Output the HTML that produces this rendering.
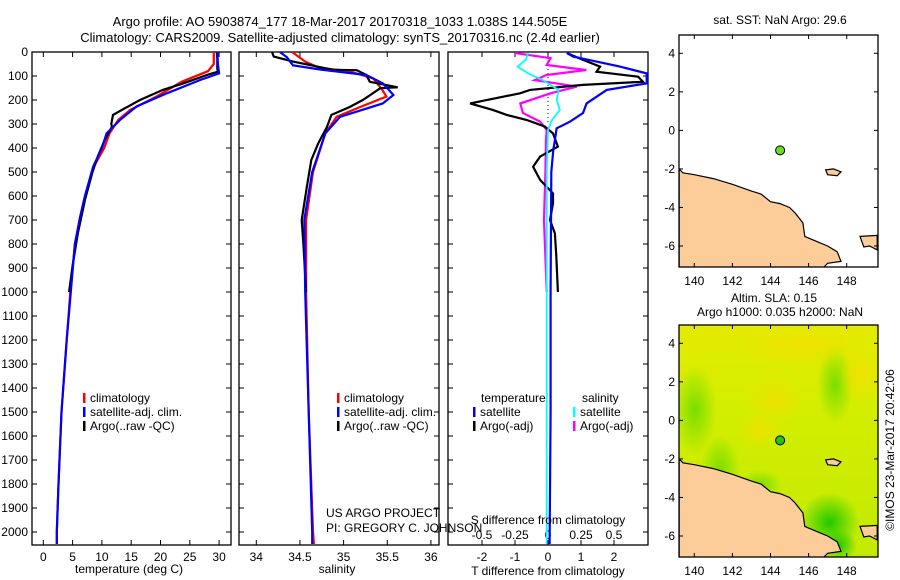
<!DOCTYPE html>
<html><head><meta charset="utf-8"><style>
html,body{margin:0;padding:0;background:#fff}
svg{display:block;font-family:"Liberation Sans",sans-serif}
text{font-size:12px;fill:#000}
</style></head><body>
<svg id="fig" width="900" height="580" viewBox="0 0 900 580" xmlns="http://www.w3.org/2000/svg">
<defs>
<radialGradient id="g1"><stop offset="0" stop-color="#18c800" stop-opacity="0.95"/><stop offset="1" stop-color="#18c800" stop-opacity="0"/></radialGradient>
<radialGradient id="g2"><stop offset="0" stop-color="#70dc00" stop-opacity="0.9"/><stop offset="1" stop-color="#70dc00" stop-opacity="0"/></radialGradient>
<radialGradient id="g3"><stop offset="0" stop-color="#f0e000" stop-opacity="0.9"/><stop offset="1" stop-color="#f0e000" stop-opacity="0"/></radialGradient>
<linearGradient id="sla" x1="0" y1="0" x2="0" y2="1"><stop offset="0" stop-color="#e4ea00"/><stop offset="0.35" stop-color="#d4ee00"/><stop offset="1" stop-color="#c2ea00"/></linearGradient>
<clipPath id="clipT"><rect x="32" y="52" width="199" height="493"/></clipPath>
<clipPath id="clipS"><rect x="239" y="52" width="200" height="493"/></clipPath>
<clipPath id="clipD"><rect x="448" y="52" width="200" height="493"/></clipPath>
<clipPath id="clipM1"><rect x="679" y="35" width="199" height="232"/></clipPath>
<clipPath id="clipM2"><rect x="679" y="325" width="199" height="232"/></clipPath>
</defs>
<text x="340" y="26" text-anchor="middle" style="font-size:13px">Argo profile: AO 5903874_177 18-Mar-2017 20170318_1033 1.038S 144.505E</text>
<text x="340" y="42" text-anchor="middle" style="font-size:13px">Climatology: CARS2009. Satellite-adjusted climatology: synTS_20170316.nc (2.4d earlier)</text>
<g id="layer"></g>
<text x="75" y="573">temperature (deg C)</text>
<text x="337" y="573" text-anchor="middle">salinity</text>
<text x="548" y="575" text-anchor="middle">T difference from climatology</text>
<text x="548" y="524" text-anchor="middle">S difference from climatology</text>
<text x="326" y="517">US ARGO PROJECT</text>
<text x="326" y="532">PI: GREGORY C. JOHNSON</text>
<text x="780" y="24" text-anchor="middle">sat. SST: NaN Argo: 29.6</text>
<text x="774" y="302" text-anchor="middle">Altim. SLA: 0.15</text>
<text x="780" y="316" text-anchor="middle">Argo h1000: 0.035 h2000: NaN</text>
<text transform="translate(894,450) rotate(-90)" text-anchor="middle">©IMOS 23-Mar-2017 20:42:06</text>
</svg>
<script>
// ---- data ----
const depthTicks=[0,100,200,300,400,500,600,700,800,900,1000,1100,1200,1300,1400,1500,1600,1700,1800,1900,2000];
const tempTicks=[0,5,10,15,20,25,30];
const salTicks=[34,34.5,35,35.5,36];
const tdiffTicks=[-2,-1,0,1,2];
const sdiffTicks=[-0.5,-0.25,0,0.25,0.5];
const tArgoDepth=[0,30,70,82,96,130,158,200,240,262,300,312,366,435,500,617,754,890,1000];
const tArgoVal=[29.6,29.7,29.7,29.8,27.9,24.0,20.4,16.5,13.5,11.9,11.6,11.7,10.5,9.3,8.4,7.1,5.9,5.0,4.4];
const tClimDepth=[0,50,80,124,186,242,283,339,400,478,600,686,800,1000,1200,1500,1800,2000,2050];
const tClimVal=[29.1,29.1,28.1,23.6,19.3,14.8,12.8,11.3,10.4,8.6,7.2,6.3,5.4,4.6,4.0,3.1,2.6,2.3,2.3];
const tSatDepth=[0,50,89,117,172,227,283,339,400,478,600,686,800,1000,1200,1500,1800,2000,2050];
const tSatVal=[29.7,29.8,30.0,26.7,21.1,15.9,13.1,10.8,10.0,8.5,7.1,6.3,5.4,4.7,4.0,3.1,2.6,2.3,2.3];
const sArgoDepth=[0,19,40,74,76,96,124,147,151,200,229,262,312,380,450,561,700,800,1000];
const sArgoVal=[34.18,34.2,34.42,34.88,35.15,35.26,35.30,35.62,35.42,35.22,35.07,34.86,34.81,34.71,34.63,34.58,34.52,34.54,34.57];
const sClimDepth=[0,40,67,78,110,156,186,229,270,339,500,700,1000,1500,2000,2050];
const sClimVal=[34.41,34.56,34.73,35.04,35.34,35.44,35.49,35.19,34.92,34.79,34.65,34.57,34.57,34.60,34.65,34.66];
const sSatDepth=[0,22,56,73,96,131,179,214,270,339,500,700,1000,1500,2000,2050];
const sSatVal=[34.27,34.35,34.42,34.73,35.26,35.45,35.57,35.45,34.96,34.79,34.64,34.55,34.56,34.60,34.64,34.64];
const dTSatDepth=[4,19,40,61,89,131,158,214,254,290,318,367,408,500,1000,1500,2050];
const dTSatVal=[0.57,0.76,1.47,2.18,2.99,2.99,1.78,1.17,1.06,0.67,0.26,0.21,0.16,0.1,0.08,0.08,0.05];
const dTArgoDepth=[4,33,61,82,103,124,137,158,172,214,242,262,283,311,339,394,436,478,533,589,631,700,756,850,1000];
const dTArgoVal=[0.57,1.06,1.58,1.47,2.73,2.88,1.06,-0.55,-0.85,-2.36,-1.66,-1.25,-0.65,-0.09,0.15,0.30,-0.24,-0.45,-0.24,0.15,0.15,0.06,0.21,0.25,0.3];
const dSArgoDepth=[4,26,54,75,96,117,144,172,214,254,290,325,367,500,700,1000];
const dSArgoVal=[-0.25,0.02,-0.01,0.29,-0.01,-0.10,0.22,0.02,-0.21,-0.19,-0.06,-0.01,-0.015,-0.02,-0.03,-0.01];
const dSSatDepth=[4,33,61,89,117,158,200,242,283,325,500,1000,1500,2050];
const dSSatVal=[-0.15,-0.17,-0.23,-0.15,-0.04,0.08,0.066,0.09,0.03,0.0,-0.01,-0.01,-0.01,-0.01];
const latTicks=[4,2,0,-2,-4,-6];
const lonTicks=[140,142,144,146,148];
const coastLon=[139.2,139.4,140,141,142,143,143.5,144,144.5,145,145.3,145.7,145.8,146.5,147,147.5,147.7,147,146.8,139.2];
const coastLat=[-2.0,-2.2,-2.3,-2.5,-2.8,-3.15,-3.3,-3.7,-3.8,-4.0,-4.3,-4.8,-5.5,-5.8,-6.0,-6.3,-6.8,-6.9,-7.1,-7.1];
const nbLon=[148.7,149.6,149.6,149.2,148.9];
const nbLat=[-5.5,-5.45,-6.2,-6.0,-6.05];
const manusLon=[146.9,147.3,147.7,147.5,147.0];
const manusLat=[-2.05,-2.0,-2.15,-2.35,-2.3];
const argoLon=144.505, argoLat=-1.038;
// ---- helpers ----
const NS='http://www.w3.org/2000/svg';
const L=document.getElementById('layer');
function mk(tag,attrs,parent){const e=document.createElementNS(NS,tag);for(const k in attrs)e.setAttribute(k,attrs[k]);(parent||L).appendChild(e);return e;}
const yD=d=>52+d*0.24;
const xT=t=>43.3+t*5.86;
const xS=s=>256.3+(s-34)*87.3;
const xDT=t=>548+t*33;
const xDS=s=>548+s*132;
const mx=lon=>694.3+(lon-140)*19.05;
const my1=lat=>53.3+(4-lat)*19.27;
const my2=lat=>343.3+(4-lat)*19.27;
function pts(xs,ys,fx,fy){return xs.map((v,i)=>fx(v).toFixed(1)+','+fy(ys[i]).toFixed(1)).join(' ');}
function panel(x0,x1,name){
  const r=mk('rect',{x:x0,y:52,width:x1-x0,height:493,fill:'none',stroke:'#000','stroke-width':1.3});
  
  
  depthTicks.forEach(d=>{mk('line',{x1:x0,x2:x0+5,y1:yD(d),y2:yD(d),stroke:'#000'});mk('line',{x1:x1-5,x2:x1,y1:yD(d),y2:yD(d),stroke:'#000'});});
}
function xticks(fx,ticks,name,labels,ly){
  ticks.forEach(t=>{mk('line',{x1:fx(t),x2:fx(t),y1:52,y2:57,stroke:'#000'});mk('line',{x1:fx(t),x2:fx(t),y1:540,y2:545,stroke:'#000'});
    if(labels){const tx=mk('text',{x:fx(t),y:ly,'text-anchor':'middle'});tx.textContent=String(t);
      
      }});
}
function line(depths,vals,fx,col,clip,name,w){
  const p=mk('polyline',{points:pts(vals,depths,fx,yD),fill:'none',stroke:col,'stroke-width':w||2.2,'clip-path':'url(#'+clip+')'});
  
  
}
// depth labels
depthTicks.forEach(d=>{const t=mk('text',{x:28,y:yD(d)+4,'text-anchor':'end'});t.textContent=String(d);
  
  });
panel(32,231,'temperature-panel');panel(239,439,'salinity-panel');panel(448,648,'difference-panel');
xticks(xT,tempTicks,'temp-tick-label',true,561);
xticks(xS,salTicks,'salinity-tick-label',true,561);
xticks(xDT,tdiffTicks,'tdiff-tick-label',true,561);
sdiffTicks.forEach(s=>{const t=mk('text',{x:xDS(s),y:539,'text-anchor':'middle'});t.textContent=String(s);
  
  });
// temperature
line(tClimDepth,tClimVal,xT,'#ff0000','clipT','temp-climatology-line');
line(tArgoDepth,tArgoVal,xT,'#000000','clipT','temp-argo-line');
line(tSatDepth,tSatVal,xT,'#0000ff','clipT','temp-satellite-line');
// salinity
line(sClimDepth,sClimVal,xS,'#ff0000','clipS','sal-climatology-line');
line(sArgoDepth,sArgoVal,xS,'#000000','clipS','sal-argo-line');
line(sSatDepth,sSatVal,xS,'#0000ff','clipS','sal-satellite-line');
// differences
mk('line',{x1:548,x2:548,y1:53,y2:125,stroke:'#000','stroke-dasharray':'1,3'});
line(dSArgoDepth,dSArgoVal,xDS,'#ff00ff','clipD','sdiff-argo-line');
line(dTArgoDepth,dTArgoVal,xDT,'#000000','clipD','tdiff-argo-line');
line(dTSatDepth,dTSatVal,xDT,'#0000ff','clipD','tdiff-satellite-line');
line(dSSatDepth,dSSatVal,xDS,'#00ffff','clipD','sdiff-satellite-line',1.8);
// legends
function leg(x,y,col,txt,name){mk('rect',{x:x,y:y-9,width:2.5,height:10,fill:col});const t=mk('text',{x:x+7,y:y});t.textContent=txt;
  
  }
leg(83,402,'#ff0000','climatology','legend-climatology');leg(83,416,'#0000ff','satellite-adj. clim.','legend-satellite-adj');leg(83,430,'#000','Argo(..raw -QC)','legend-argo');
leg(337,402,'#ff0000','climatology','legend-climatology-2');leg(337,416,'#0000ff','satellite-adj. clim.','legend-satellite-adj-2');leg(337,430,'#000','Argo(..raw -QC)','legend-argo-2');
(function(){const t=mk('text',{x:481,y:402});t.textContent='temperature';
 const u=mk('text',{x:582,y:402});u.textContent='salinity';})();
leg(473,416,'#0000ff','satellite','legend-t-satellite');leg(473,430,'#000','Argo(-adj)','legend-t-argo');
leg(573,416,'#00ffff','satellite','legend-s-satellite');leg(573,430,'#ff00ff','Argo(-adj)','legend-s-argo');
// maps
function map(my,top,clip,name,sla){
  const g=mk('g',{'clip-path':'url(#'+clip+')'});
  
  
  if(sla){
    mk('rect',{x:679,y:top,width:199,height:232,fill:'url(#sla)'},g);
    [[695,410,22,45,'g2'],[720,470,20,35,'g2'],[835,385,18,40,'g2'],[760,485,22,15,'g2'],[800,345,60,20,'g3'],[860,375,20,30,'g3'],[775,400,30,25,'g3'],[760,430,22,18,'g3']].forEach(e=>mk('ellipse',{cx:e[0],cy:e[1],rx:e[2],ry:e[3],fill:'url(#'+e[4]+')'},g));
    mk('ellipse',{cx:mx(147.1),cy:my(-5.3),rx:30,ry:30,fill:'url(#g1)'},g);
    mk('ellipse',{cx:mx(147.6),cy:my(-6.5),rx:18,ry:16,fill:'url(#g1)'},g);
  }
  mk('polygon',{points:pts(coastLon,coastLat,mx,my),fill:'#fccc99',stroke:'#000','stroke-width':1.2},g);
  mk('polygon',{points:pts(nbLon,nbLat,mx,my),fill:'#fccc99',stroke:'#000','stroke-width':1.2},g);
  mk('polygon',{points:pts(manusLon,manusLat,mx,my),fill:'#fccc99',stroke:'#000','stroke-width':1.2},g);
  const c=mk('circle',{cx:mx(argoLon),cy:my(argoLat),r:4.5,fill:sla?'#30c010':'#66dd22',stroke:'#000','stroke-width':1});
  
  
  mk('rect',{x:679,y:top,width:199,height:232,fill:'none',stroke:'#000','stroke-width':1.3});
  latTicks.forEach(l=>{mk('line',{x1:679,x2:683,y1:my(l),y2:my(l),stroke:'#000'});mk('line',{x1:874,x2:878,y1:my(l),y2:my(l),stroke:'#000'});
    const t=mk('text',{x:675,y:my(l)+4,'text-anchor':'end'});t.textContent=String(l);
    
    });
  lonTicks.forEach(l=>{mk('line',{x1:mx(l),x2:mx(l),y1:top,y2:top+4,stroke:'#000'});mk('line',{x1:mx(l),x2:mx(l),y1:top+228,y2:top+232,stroke:'#000'});
    const t=mk('text',{x:mx(l),y:top+250,'text-anchor':'middle'});t.textContent=String(l);
    
    });
}
map(my1,35,'clipM1','sst-map',false);
map(my2,325,'clipM2','sla-map',true);
</script>
</body></html>
